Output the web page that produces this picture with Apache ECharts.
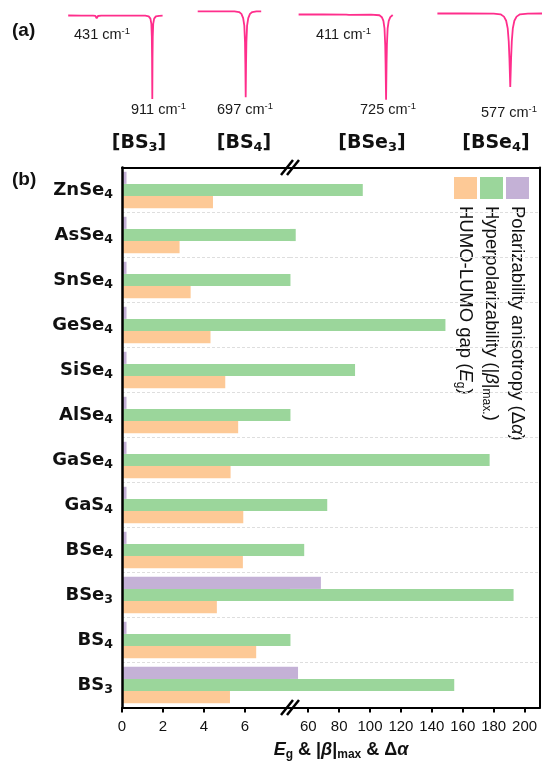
<!DOCTYPE html>
<html><head><meta charset="utf-8">
<script src="https://cdn.jsdelivr.net/npm/echarts@6/dist/echarts.min.js"></script>
<style>html,body{margin:0;padding:0;background:#fff}#c{width:542px;height:761px}</style>
</head><body><div id="c"></div>
<script>
// ---- data (bottom to top on the category axis) ----
const categories = ['BS3','BS4','BSe3','BSe4','GaS4','GaSe4','AlSe4','SiSe4','GeSe4','SnSe4','AsSe4','ZnSe4'];
const gapEg      = [5.27, 6.55, 4.63, 5.90, 5.92, 5.30, 5.67, 5.04, 4.32, 3.35, 2.81, 4.44];
const hyperBeta  = [154.5, 48.5, 192.9, 57.4, 72.3, 177.4, 48.5, 90.3, 148.8, 48.5, 51.9, 95.3];
const anisoAlpha = [53.4, 0.22, 68.2, 0.22, 0.22, 0.22, 0.22, 0.22, 0.22, 0.22, 0.22, 0.22];
const lowTicks  = [0, 2, 4, 6];
const highTicks = [60, 80, 100, 120, 140, 160, 180, 200];
const lowRange  = [0, 8.2];
const highRange = [48.2, 210];

// IR spectra (wavenumber cm-1, transmittance %)
const specBS3 = [[185,94.0],[300,93.9],[400,93.8],[420,93.5],[427,92.3],[431,91.0],[435,92.3],[442,93.5],[470,93.8],[600,93.9],[750,93.9],[850,93.8],[880,93.1],[895,90.6],[903,85],[907,71],[909,49],[911,3.3],[913,49],[915,71],[919,85],[927,90.6],[942,93.1],[970,93.7],[1000,93.8]];
const specBS4 = [[282,98.5],[450,98.5],[600,98.4],[640,97.8],[660,95.8],[675,91.2],[685,83],[691,65],[694,41],[697,5.1],[700,41],[703,65],[709,83],[719,91.2],[734,95.8],[754,97.8],[790,98.4],[831,98.5]];
const specBSe3 = [[0,95.1],[200,95.1],[395,95.0],[405,94.6],[411,94.3],[417,94.6],[427,95.0],[600,95.0],[670,94.3],[690,92.2],[703,88.2],[712,80],[718,62],[721,41],[725,2.5],[729,41],[732,62],[738,80],[747,88.2],[760,92.2],[772,94.2],[780,94.6]];
const specBSe4 = [[150,96.2],[300,96.2],[480,96.1],[520,95.3],[540,92.8],[553,88.3],[562,80],[568,66],[572,48],[577,16.3],[582,48],[586,66],[592,80],[601,88.3],[614,92.8],[634,95.3],[680,96.1],[763,96.2]];
const specRanges = [[185,1000],[282,831],[0,780],[150,763]];
const peakLabels = ['431','911','697','411','725','577'];
const specNames = ['BS3','BS4','BSe3','BSe4'];

const C_EG = '#FDC996', C_BETA = '#9BD69B', C_ALPHA = '#C4B1D6', C_IR = '#FF2E8C';
const SANS = 'Liberation Sans, Arial, sans-serif';
const BOLDF = 'DejaVu Sans, sans-serif';

function chem(n){ const m = n.match(/^(.*?)(\d*)$/); return '{b|' + m[1] + '}' + (m[2] ? '{s|' + m[2] + '}' : ''); }

const chart = echarts.init(document.getElementById('c'));
const TOP = 167.5, BOTTOM = 761 - 707.5;
const grids = [
  {left: 122, width: 168, top: TOP, bottom: BOTTOM},
  {left: 290, right: 2, top: TOP, bottom: BOTTOM},
  {left: 68.2, width: 94.4, top: 10, height: 92},
  {left: 197.7, width: 63.5, top: 10, height: 92},
  {left: 298.6, width: 94.1, top: 10, height: 92},
  {left: 437.4, right: 0, top: 10, height: 92}
];
const black = {lineStyle: {color: '#000', width: 2}};
const xAxes = [
  {gridIndex: 0, type: 'value', z: 10, min: lowRange[0], max: lowRange[1], splitLine: {show: false},
   axisLine: {show: true, lineStyle: {color: '#000', width: 2}},
   axisTick: {show: true, customValues: lowTicks, length: 5, lineStyle: {color: '#000', width: 2}},
   axisLabel: {customValues: lowTicks, fontSize: 15, color: '#111', fontFamily: SANS, margin: 12}},
  {gridIndex: 1, type: 'value', z: 10, min: highRange[0], max: highRange[1], splitLine: {show: false},
   axisLine: {show: true, lineStyle: {color: '#000', width: 2}},
   axisTick: {show: true, customValues: highTicks, length: 5, lineStyle: {color: '#000', width: 2}},
   axisLabel: {customValues: highTicks, fontSize: 15, color: '#111', fontFamily: SANS, margin: 12}},
  {gridIndex: 0, type: 'value', z: 10, position: 'top', min: lowRange[0], max: lowRange[1], axisLine: {show: true, ...black}, axisTick: {show: false}, axisLabel: {show: false}, splitLine: {show: false}},
  {gridIndex: 1, type: 'value', z: 10, position: 'top', min: highRange[0], max: highRange[1], axisLine: {show: true, ...black}, axisTick: {show: false}, axisLabel: {show: false}, splitLine: {show: false}}
];
const yAxes = [
  {gridIndex: 0, type: 'category', z: 10, data: categories,
   axisLine: {show: true, lineStyle: {color: '#000', width: 2.5}}, axisTick: {show: false},
   splitLine: {show: true, lineStyle: {color: '#dedede', type: [3, 2], width: 1}},
   axisLabel: {margin: 9, formatter: chem, rich: {
     b: {fontSize: 18, fontWeight: 'bold', fontFamily: BOLDF, color: '#111'},
     s: {fontSize: 12.5, fontWeight: 'bold', fontFamily: BOLDF, color: '#111', padding: [9, 0, 0, 0]}}}},
  {gridIndex: 1, type: 'category', data: categories, axisLine: {show: false}, axisTick: {show: false}, axisLabel: {show: false},
   splitLine: {show: true, lineStyle: {color: '#dedede', type: [3, 2], width: 1}}},
  {gridIndex: 1, type: 'category', z: 10, position: 'right', data: categories, axisLine: {show: true, ...black}, axisTick: {show: false}, axisLabel: {show: false}, splitLine: {show: false}}
];
const series = [];
[[0,0],[1,1]].forEach(([xi, yi]) => {
  [[anisoAlpha, C_ALPHA, 'Polarizability anisotropy'], [hyperBeta, C_BETA, 'Hyperpolarizability'], [gapEg, C_EG, 'HUMO-LUMO gap']].forEach(([d, col, nm]) => {
    series.push({type: 'bar', name: nm, xAxisIndex: xi, yAxisIndex: yi, data: d, barGap: '0%', barCategoryGap: '19%',
      clip: true, itemStyle: {color: col}, silent: true});
  });
});
const specs = [specBS3, specBS4, specBSe3, specBSe4];
specs.forEach((sp, i) => {
  xAxes.push({gridIndex: 2 + i, type: 'value', min: specRanges[i][0], max: specRanges[i][1], show: false});
  yAxes.push({gridIndex: 2 + i, type: 'value', min: 0, max: 100, show: false});
  series.push({type: 'line', xAxisIndex: 4 + i, yAxisIndex: 3 + i, data: sp, showSymbol: false, symbol: 'none',
    lineStyle: {color: C_IR, width: 1.8}, silent: true});
});

const cmRich = {n: {fontSize: 14.5, fontFamily: SANS, fill: '#1a1a1a'}, u: {fontSize: 9.5, fontFamily: SANS, fill: '#1a1a1a', padding: [0, 0, 7, 0]}};
function cmText(v, x, y){ return {type: 'text', x: x, y: y, style: {text: '{n|' + v + ' cm}{u|-1}', rich: cmRich, verticalAlign: 'middle'}}; }
const bRich = {b: {fontSize: 19, fontWeight: 'bold', fontFamily: BOLDF, fill: '#111'}, s: {fontSize: 13, fontWeight: 'bold', fontFamily: BOLDF, fill: '#111', padding: [10, 0, 0, 0]}};
function bracket(n, x){ return {type: 'text', x: x, y: 143, style: {text: '{b|[}' + chem(n) + '{b|]}', rich: bRich, align: 'center', verticalAlign: 'middle'}}; }
const legRich = {t: {fontSize: 18.5, fontFamily: SANS, fill: '#111'}, i: {fontSize: 18.5, fontFamily: SANS, fontStyle: 'italic', fill: '#111'}, s: {fontSize: 12, fontFamily: SANS, fill: '#111', padding: [9, 0, 0, 0]}};
function legText(txt, x){ return {type: 'text', x: x, y: 206, rotation: -Math.PI / 2, style: {text: txt, rich: legRich, align: 'left', verticalAlign: 'middle'}}; }
function slash(x, y){ return [
  {type: 'line', shape: {x1: x - 9, y1: y + 7.5, x2: x + 3, y2: y - 7.5}, style: {stroke: '#000', lineWidth: 2.5}},
  {type: 'line', shape: {x1: x - 3, y1: y + 7.5, x2: x + 9, y2: y - 7.5}, style: {stroke: '#000', lineWidth: 2.5}}]; }

const graphic = [
  {type: 'text', x: 12, y: 31, style: {text: '(a)', font: 'bold 19px ' + SANS, fill: '#111', verticalAlign: 'middle'}},
  {type: 'text', x: 12, y: 180, style: {text: '(b)', font: 'bold 19px ' + SANS, fill: '#111', verticalAlign: 'middle'}},
  cmText(peakLabels[0], 74, 35), cmText(peakLabels[1], 131, 110), cmText(peakLabels[2], 217, 110),
  cmText(peakLabels[3], 316, 35), cmText(peakLabels[4], 360, 110), cmText(peakLabels[5], 481, 112.5),
  bracket(specNames[0], 139), bracket(specNames[1], 244), bracket(specNames[2], 372), bracket(specNames[3], 496),
  {type: 'rect', z: 20, shape: {x: 454, y: 177, width: 23, height: 22}, style: {fill: C_EG}},
  {type: 'rect', z: 20, shape: {x: 480, y: 177, width: 23, height: 22}, style: {fill: C_BETA}},
  {type: 'rect', z: 20, shape: {x: 506, y: 177, width: 23, height: 22}, style: {fill: C_ALPHA}},
  legText('{t|Polarizability anisotropy (Δ}{i|α}{t|)}', 517),
  legText('{t|Hyperpolarizability (|}{i|β}{t||}{s|max.}{t|)}', 491),
  legText('{t|HUMO-LUMO gap (}{i|E}{s|g}{t|)}', 465),
  ...slash(290, 167.5), ...slash(290, 707.5),
  {type: 'text', x: 341, y: 750, style: {align: 'center', verticalAlign: 'middle',
    text: '{i|E}{s|g}{b| & |}{i|β}{b||}{s|max}{b| & Δ}{i|α}',
    rich: {b: {fontSize: 18, fontWeight: 'bold', fontFamily: SANS, fill: '#111'},
           i: {fontSize: 18, fontWeight: 'bold', fontStyle: 'italic', fontFamily: SANS, fill: '#111'},
           s: {fontSize: 12, fontWeight: 'bold', fontFamily: SANS, fill: '#111', padding: [10, 0, 0, 0]}}}}
];

chart.setOption({animation: false, textStyle: {fontFamily: SANS}, grid: grids, xAxis: xAxes, yAxis: yAxes, series: series, graphic: graphic});
</script></body></html>
